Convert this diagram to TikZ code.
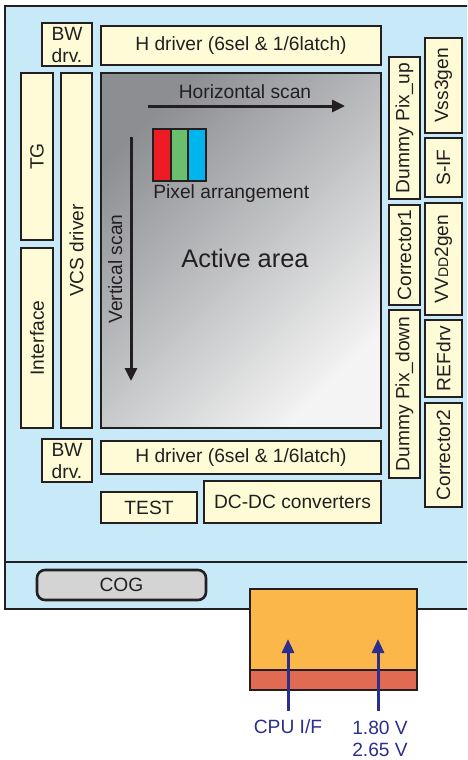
\documentclass[tikz,border=0pt]{standalone}
\usepackage{fontspec}
\setmainfont{Liberation Sans}
\usetikzlibrary{fit,arrows.meta}
\definecolor{panelBlue}{RGB}{200,234,248}
\definecolor{boxCream}{RGB}{255,251,214}
\definecolor{lineDark}{RGB}{35,31,32}
\definecolor{cogGray}{RGB}{212,212,212}
\definecolor{chipOrange}{RGB}{251,183,74}
\definecolor{chipRed}{RGB}{224,107,82}
\definecolor{areaDark}{RGB}{140,142,146}
\definecolor{areaLight}{RGB}{244,244,244}
\definecolor{pixRed}{RGB}{237,28,36}
\definecolor{pixGreen}{RGB}{106,190,110}
\definecolor{pixBlue}{RGB}{0,181,238}
\definecolor{ifBlue}{RGB}{43,46,140}

\begin{document}
\begin{tikzpicture}[x=0.5pt, y=-0.5pt,
    blk/.style={draw=lineDark, fill=boxCream, line width=1.3pt, inner sep=0pt},
    pix/.style={draw=lineDark, line width=0.6pt, inner sep=0pt},
    every label/.style={font=\fontsize{9.6}{11}\selectfont, text=lineDark, inner sep=0pt, align=center},
    note/.style={font=\fontsize{9.6}{11}\selectfont, text=lineDark, inner sep=0pt},
    scan/.style={draw=lineDark, line width=1.5pt, -{Triangle[length=6.5pt, width=6pt]}},
    feed/.style={draw=ifBlue, line width=1.5pt, -{Triangle[length=7pt, width=6pt]}}
]
\clip (0,0) rectangle (467,760);
% glass panel
\draw[fill=panelBlue, draw=lineDark, line width=1.4pt] (5,6) rectangle (480,609);
\draw[lineDark, line width=1.4pt] (5,562) -- (480,562);

% top row
\node[blk, fit={(42,23) (92,66)}, label={center:BW\\drv.}] (bwtop) {};
\node[blk, fit={(101,26) (381,65)}, label={center:H driver (6sel \& 1/6latch)}] (hdtop) {};

% left column
\node[blk, fit={(21,73) (53,240)}, label={[rotate=90]center:TG}] (tg) {};
\node[blk, fit={(21,248) (53,428)}, label={[rotate=90]center:Interface}] (intf) {};
\node[blk, fit={(61,73) (92,428)}, label={[rotate=90]center:VCS driver}] (vcs) {};

% active area
\node[draw=lineDark, line width=1.3pt, inner sep=0pt, top color=areaDark, bottom color=areaLight,
      shading angle=45, fit={(101,73) (381,428)}] (active) {};
\node[font=\fontsize{12.7}{14}\selectfont, text=lineDark, inner sep=0pt] (actlbl) at (245,258) {Active area};
\node[note, anchor=base] (hscan) at (245,98) {Horizontal scan};
\coordinate (hsA) at (148,106);
\coordinate (hsB) at (345,106);
\draw[scan] (hsA) -- (hsB);
\node[note, rotate=90, anchor=base] (vscan) at (122,269) {Vertical scan};
\coordinate (vsA) at (131,137);
\coordinate (vsB) at (131,381);
\draw[scan] (vsA) -- (vsB);
\node[pix, fill=pixRed, fit={(153,129) (171,181)}] (pixr) {};
\node[pix, fill=pixGreen, fit={(171,129) (188,181)}] (pixg) {};
\node[pix, fill=pixBlue, fit={(188,129) (206,181)}] (pixb) {};
\node[note, anchor=base west] (pixlbl) at (153,198) {Pixel arrangement};

% bottom rows
\node[blk, fit={(42,439) (92,482)}, label={center:BW\\drv.}] (bwbot) {};
\node[blk, fit={(101,441) (381,474)}, label={center:H driver (6sel \& 1/6latch)}] (hdbot) {};
\node[blk, fit={(101,492) (197,523)}, label={center:TEST}] (test) {};
\node[blk, fit={(204,481) (381,523)}, label={center:DC-DC converters}] (dcdc) {};

% right columns
\node[blk, fit={(389,57) (420,199)}, label={[rotate=90]center:Dummy Pix\_up}] (dpup) {};
\node[blk, fit={(389,205) (420,305)}, label={[rotate=90]center:Corrector1}] (corr1) {};
\node[blk, fit={(389,310) (420,478)}, label={[rotate=90]center:Dummy Pix\_down}] (dpdown) {};
\node[blk, fit={(425,38) (462,133)}, label={[rotate=90]center:Vss3gen}] (vss) {};
\node[blk, fit={(425,138) (462,197)}, label={[rotate=90]center:S-IF}] (sif) {};
\node[blk, fit={(425,203) (462,315)}, label={[rotate=90]center:VV{\fontsize{7}{8}\selectfont DD}2gen}] (vvdd) {};
\node[blk, fit={(425,320) (462,397)}, label={[rotate=90]center:REFdrv}] (refdrv) {};
\node[blk, fit={(425,403) (462,507)}, label={[rotate=90]center:Corrector2}] (corr2) {};

% COG strip and driver IC
\node[draw=lineDark, fill=cogGray, rounded corners=4pt, line width=1.3pt, inner sep=0pt,
      fit={(37,570) (206,600)}, label={center:COG}] (cog) {};
\node[draw=lineDark, fill=chipOrange, line width=1.3pt, inner sep=0pt, fit={(250,589) (417,690)}] (chip) {};
\node[draw=lineDark, fill=chipRed, line width=1.3pt, inner sep=0pt, fit={(250,670) (417,690)}] (chipbase) {};

% inputs
\node[note, text=ifBlue, anchor=base] (cpu) at (288,733) {CPU I/F};
\node[note, text=ifBlue, align=center, anchor=north] (volt) at (380,721) {1.80 V\\2.65 V};
\coordinate (cpuin) at (288,639);
\coordinate (voltin) at (378,639);
\draw[feed, shorten <=4pt] (cpu.north) -- (cpuin);
\draw[feed, shorten <=5pt] (volt.north -| voltin) -- (voltin);
\end{tikzpicture}
\end{document}
